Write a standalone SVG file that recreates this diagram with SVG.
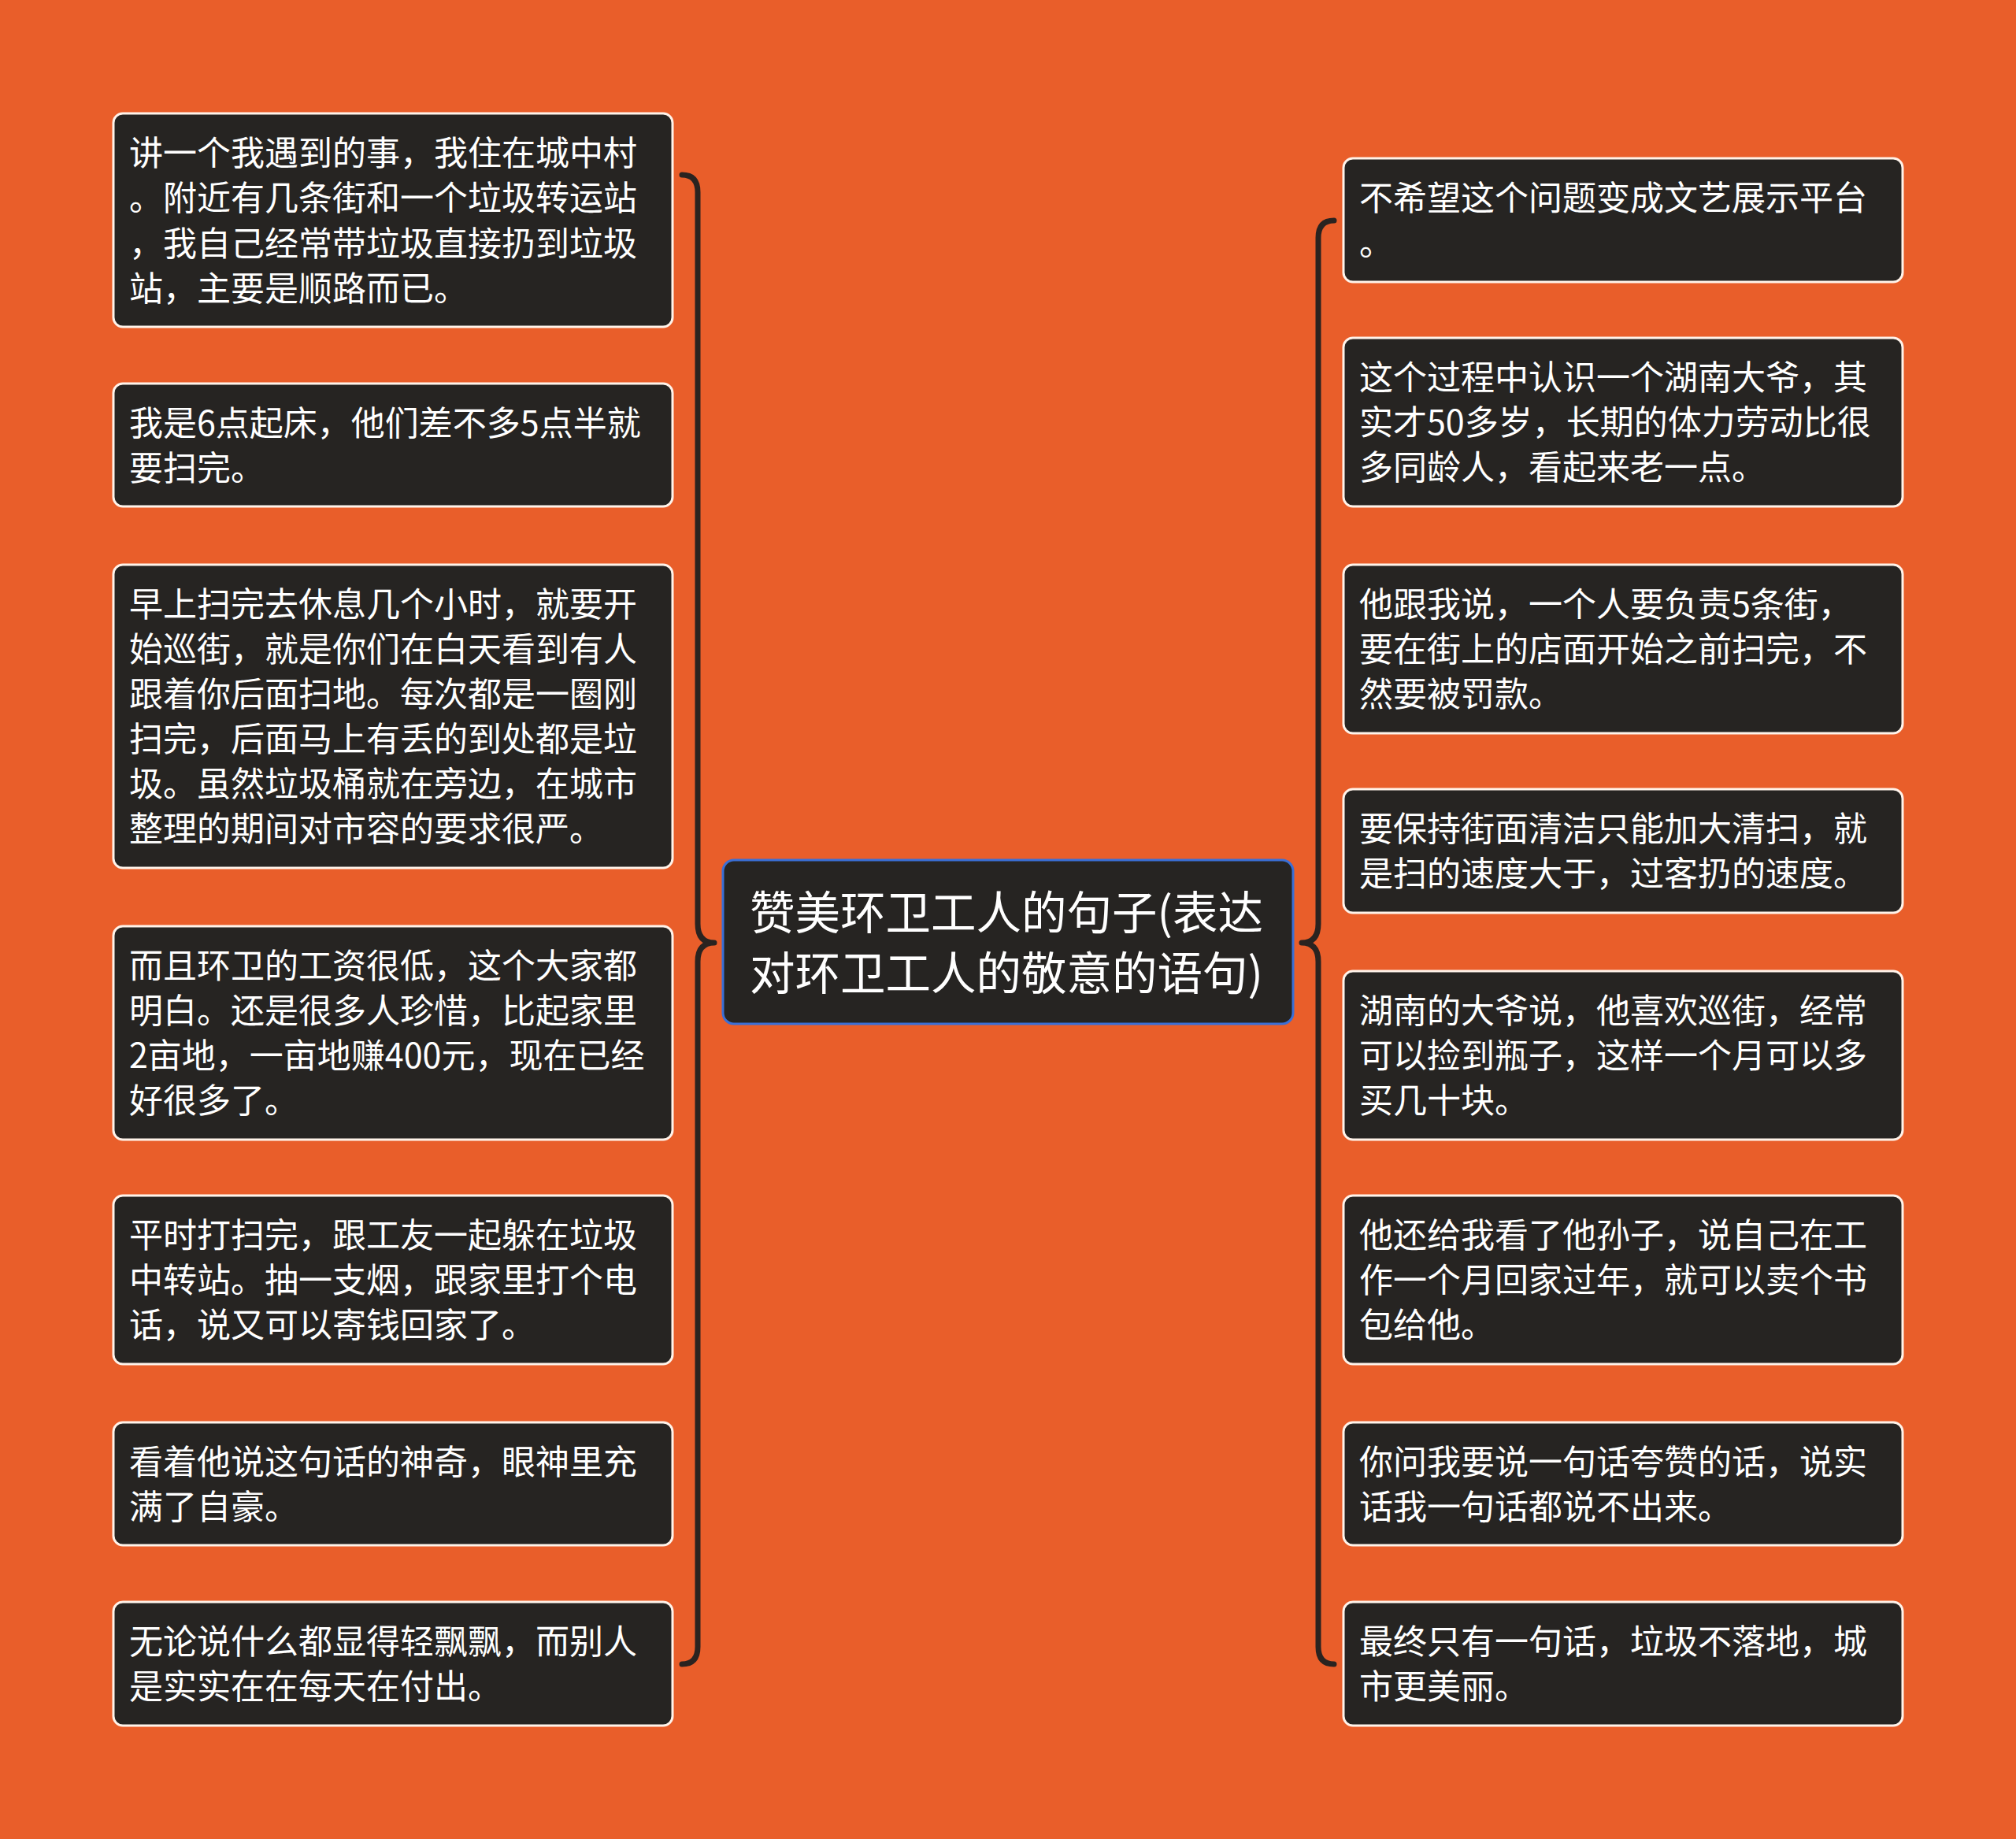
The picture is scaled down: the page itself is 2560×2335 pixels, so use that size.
<svg xmlns="http://www.w3.org/2000/svg" width="2560" height="2335" viewBox="0 0 2560 2335">
<style>
.bg{fill:#E95E2A}
.n{fill:#262422;stroke:#FFF3EA;stroke-width:3}
.c{fill:#262422;stroke:#3A6FD6;stroke-width:3}
.t{font-family:"Noto Sans CJK SC","Noto Sans",sans-serif;font-size:43px;fill:#FFFFFF}
.ct{font-family:"Noto Sans CJK SC","Noto Sans",sans-serif;font-size:57.5px;fill:#FFFFFF}
.br{fill:none;stroke:#2A2320;stroke-width:7;stroke-linecap:round;stroke-linejoin:round}
</style>
<rect class="bg" x="0" y="0" width="2560" height="2335"/>
<g id="connectors">
<path class="br" d="M866 222 Q886 222 886 244 L886 1173 Q886 1197 907 1197 Q886 1197 886 1221 L886 2091 Q886 2113 866 2113"/>
<path class="br" d="M1694 280 Q1674 280 1674 302 L1674 1173 Q1674 1197 1653 1197 Q1674 1197 1674 1221 L1674 2091 Q1674 2113 1694 2113"/>
</g>
<g id="center">
<rect class="c" x="918" y="1092" width="724" height="208" rx="14"/>
<text class="ct" x="952" y="1180">赞美环卫工人的句子(表达</text>
<text class="ct" x="952" y="1257">对环卫工人的敬意的语句)</text>
</g>
<g id="L1">
<rect class="n" x="144" y="144" width="710" height="271" rx="12"/>
<text class="t" x="164" y="210">讲一个我遇到的事，我住在城中村</text>
<text class="t" x="164" y="267">。附近有几条街和一个垃圾转运站</text>
<text class="t" x="164" y="325">，我自己经常带垃圾直接扔到垃圾</text>
<text class="t" x="164" y="382">站，主要是顺路而已。</text>
</g>
<g id="L2">
<rect class="n" x="144" y="487" width="710" height="156" rx="12"/>
<text class="t" x="164" y="553">我是6点起床，他们差不多5点半就</text>
<text class="t" x="164" y="610">要扫完。</text>
</g>
<g id="L3">
<rect class="n" x="144" y="717" width="710" height="385" rx="12"/>
<text class="t" x="164" y="783">早上扫完去休息几个小时，就要开</text>
<text class="t" x="164" y="840">始巡街，就是你们在白天看到有人</text>
<text class="t" x="164" y="897">跟着你后面扫地。每次都是一圈刚</text>
<text class="t" x="164" y="954">扫完，后面马上有丢的到处都是垃</text>
<text class="t" x="164" y="1011">圾。虽然垃圾桶就在旁边，在城市</text>
<text class="t" x="164" y="1068">整理的期间对市容的要求很严。</text>
</g>
<g id="L4">
<rect class="n" x="144" y="1176" width="710" height="271" rx="12"/>
<text class="t" x="164" y="1242">而且环卫的工资很低，这个大家都</text>
<text class="t" x="164" y="1299">明白。还是很多人珍惜，比起家里</text>
<text class="t" x="164" y="1356">2亩地，一亩地赚400元，现在已经</text>
<text class="t" x="164" y="1413">好很多了。</text>
</g>
<g id="L5">
<rect class="n" x="144" y="1518" width="710" height="214" rx="12"/>
<text class="t" x="164" y="1584">平时打扫完，跟工友一起躲在垃圾</text>
<text class="t" x="164" y="1641">中转站。抽一支烟，跟家里打个电</text>
<text class="t" x="164" y="1698">话，说又可以寄钱回家了。</text>
</g>
<g id="L6">
<rect class="n" x="144" y="1806" width="710" height="156" rx="12"/>
<text class="t" x="164" y="1872">看着他说这句话的神奇，眼神里充</text>
<text class="t" x="164" y="1929">满了自豪。</text>
</g>
<g id="L7">
<rect class="n" x="144" y="2034" width="710" height="157" rx="12"/>
<text class="t" x="164" y="2100">无论说什么都显得轻飘飘，而别人</text>
<text class="t" x="164" y="2157">是实实在在每天在付出。</text>
</g>
<g id="R1">
<rect class="n" x="1706" y="201" width="710" height="157" rx="12"/>
<text class="t" x="1726" y="267">不希望这个问题变成文艺展示平台</text>
<text class="t" x="1726" y="324">。</text>
</g>
<g id="R2">
<rect class="n" x="1706" y="429" width="710" height="214" rx="12"/>
<text class="t" x="1726" y="495">这个过程中认识一个湖南大爷，其</text>
<text class="t" x="1726" y="552">实才50多岁，长期的体力劳动比很</text>
<text class="t" x="1726" y="609">多同龄人，看起来老一点。</text>
</g>
<g id="R3">
<rect class="n" x="1706" y="717" width="710" height="214" rx="12"/>
<text class="t" x="1726" y="783">他跟我说，一个人要负责5条街，</text>
<text class="t" x="1726" y="840">要在街上的店面开始之前扫完，不</text>
<text class="t" x="1726" y="897">然要被罚款。</text>
</g>
<g id="R4">
<rect class="n" x="1706" y="1002" width="710" height="157" rx="12"/>
<text class="t" x="1726" y="1068">要保持街面清洁只能加大清扫，就</text>
<text class="t" x="1726" y="1125">是扫的速度大于，过客扔的速度。</text>
</g>
<g id="R5">
<rect class="n" x="1706" y="1233" width="710" height="214" rx="12"/>
<text class="t" x="1726" y="1299">湖南的大爷说，他喜欢巡街，经常</text>
<text class="t" x="1726" y="1356">可以捡到瓶子，这样一个月可以多</text>
<text class="t" x="1726" y="1413">买几十块。</text>
</g>
<g id="R6">
<rect class="n" x="1706" y="1518" width="710" height="214" rx="12"/>
<text class="t" x="1726" y="1584">他还给我看了他孙子，说自己在工</text>
<text class="t" x="1726" y="1641">作一个月回家过年，就可以卖个书</text>
<text class="t" x="1726" y="1698">包给他。</text>
</g>
<g id="R7">
<rect class="n" x="1706" y="1806" width="710" height="156" rx="12"/>
<text class="t" x="1726" y="1872">你问我要说一句话夸赞的话，说实</text>
<text class="t" x="1726" y="1929">话我一句话都说不出来。</text>
</g>
<g id="R8">
<rect class="n" x="1706" y="2034" width="710" height="157" rx="12"/>
<text class="t" x="1726" y="2100">最终只有一句话，垃圾不落地，城</text>
<text class="t" x="1726" y="2157">市更美丽。</text>
</g>
</svg>
